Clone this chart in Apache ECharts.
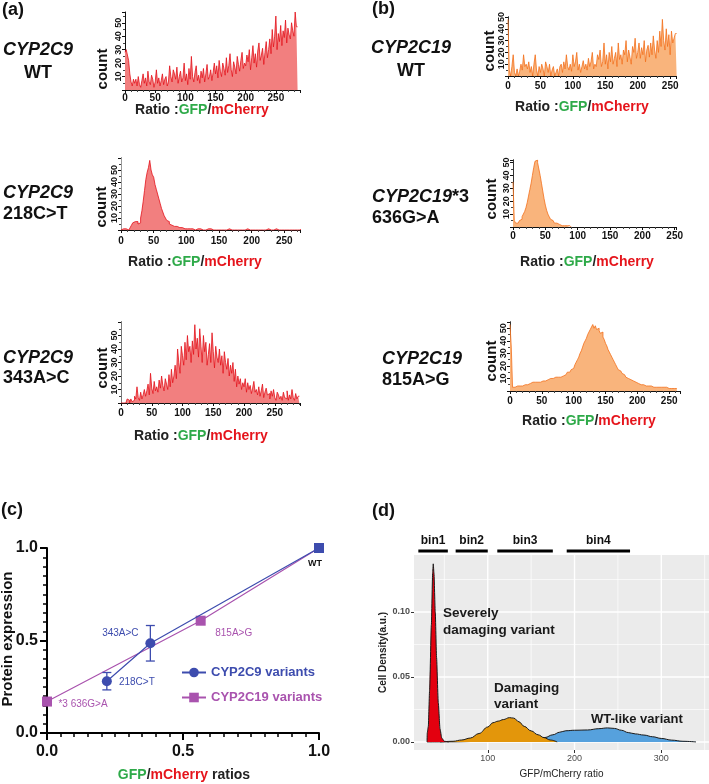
<!DOCTYPE html>
<html><head><meta charset="utf-8">
<script src="https://cdn.jsdelivr.net/npm/echarts@6/dist/echarts.min.js"></script>
<style>html,body{margin:0;padding:0;background:#fff}#c{width:709px;height:784px}</style>
</head><body><div id="c"></div>
<script>
// ---------- DATA ----------
const BIN = 2; // histogram bin width (ratio units)
const c9WT = [28,30,26,22,12,6,3,8,
 5,8,3,10,4,2,7,12,5,9,3,14,6,4,11,8,2,6,15,5,9,3,7,12,4,8,10,3,6,
 18,10,6,15,12,8,17,5,10,14,6,9,20,7,12,4,16,8,25,10,6,13,18,7,11,5,14,9,16,6,12,19,8,10,15,7,13,20,
 12,18,9,22,14,10,20,16,11,24,13,18,27,15,10,21,17,12,25,19,14,22,28,16,20,
 18,26,21,30,15,24,33,20,27,17,29,35,22,26,31,19,28,36,24,30,
 38,27,45,32,40,55,30,42,36,48,33,44,39,52,35,46,41,38,50,44,40,58,47];
const c9_218 = [0,1,0,1,1,0,1,
 2,4,6,7,8,7,5,6,
 10,16,24,33,42,48,52,58,50,46,
 44,38,34,30,26,22,18,15,12,10,
 8,7,5,4,3,3,2,3,2,2,
 1,2,1,1,2,1,0,1,2,1, 1,0,1,1,0,1,1,0,1,0, 0,1,0,1,0,0,1,0,1,0, 0,0,1,0,1,0,0,1,0,0,
 1,0,0,0,1,0,0,0,1,0, 0,1,0,0,0,0,1,0,0,0, 0,0,1,0,0,0,0,1,0,0, 0,0,0,1,0,0,0,0,1,0,
 0,0,1,0,0,0,0,0,1,0, 0,0,1];
const c9_343 = [0,0,0,0,0, 3,2,0,3,1,
 2,5,3,12,4,2,8,3,6,10, 5,9,14,6,22,11,7,16,9,12, 8,17,11,20,13,9,18,14,10,21,
 12,25,15,20,28, 18,40,30,22,42,
 35,28,45,32,50,38,42,30,46,36, 58,40,48,34,55,42,30,50,38,45,
 28,36,44,30,52,38,26,42,34,30, 40,28,35,22,38,30,25,33,20,28,
 22,30,16,25,12,20,14,18,10,15, 12,18,8,15,10,13,7,11,16,8,
 10,6,12,5,9,14,4,8,11,6, 7,3,9,5,10,4,2,8,6,3,
 5,2,8,4,3,9,2,6,3,10,4,2,7,3,5];
const c19WT = [48, 5,0,8,18,3,0,6,0,4,
 10,5,18,8,10,6,12,3,8,0, 10,18,5,0,8,3,10,6,0,12, 8,3,10,0,5,8,0,3,6,0,
 8,10,3,12,6,18,8,5,10,4, 18,8,12,20,5,10,3,8,13,6, 10,5,15,8,12,20,6,10,8,18,
 14,22,8,12,28,10,18,6,20,12, 25,10,15,20,8,28,14,18,10,22, 18,30,12,22,16,10,25,20,32,15,
 20,28,15,24,18,30,12,22,26,16, 28,18,34,22,15,30,20,38,25,48, 30,22,40,25,35,18,38,28,32,36];
const c19_636 = [35, 5,3,3,4, 5,6,8,10,12, 15,19,24,29,34, 40,46,51,52,50, 45,40,34,28,22,
 17,13,10,8,6, 5,4,3,3,2, 2,2,1,1,1, 1,1,1,1,0];
const c19_815 = [53,35, 3,3,3,4,3,4,4,4,
 4,5,5,5,6,6,6,7,6,7, 7,7,8,7,8,8,9,8,9,9, 9,10,9,10,10,11,10,11,12,11,
 12,12,13,13,14,15,15,16,17,18, 19,21,23,25,27,30,32,35,38,40, 42,45,47,49,51,53,50,52,49,50,
 48,46,47,43,41,38,36,33,31,29, 27,25,23,21,19,17,16,15,14,13, 12,11,10,10,9,8,8,7,7,6,
 6,6,5,5,5,5,4,4,4,4, 4,4,3,4,3,3,3,3,3,3, 3,2,3,2,2,2,2,2,2,2,2];
const histTicks = [0,50,100,150,200,250];
const countTicks = [10,20,30,40,50];

// panel (c)
const c9Ratio = [0.22, 0.38, 1.0];
const c9Expr  = [0.28, 0.485, 1.0];
const c9Err   = [0.047, 0.096, 0];
const c9Names = ['218C>T','343A>C','WT'];
const c19Ratio = [0.0, 0.565, 1.0];
const c19Expr  = [0.17, 0.607, 1.0];
const c19Names = ['*3 636G>A','815A>G',''];

// panel (d)
const redX = [30,30.3,31.5,33,35,36.5,37.2,38,39.5,41,43,45,47,50,55];
const redY = [0,0.007,0.012,0.04,0.09,0.13,0.137,0.13,0.1,0.065,0.03,0.01,0.003,0.0005,0];
const orX = [45,60,70,80,90,100,106,112,118,125,130,136,142,150,158,165,172,180];
const orY = [0,0.0005,0.0015,0.003,0.0065,0.0115,0.0148,0.016,0.0172,0.0187,0.0183,0.0155,0.012,0.0085,0.0055,0.0033,0.0015,0];
const blX = [30,60,90,120,140,155,166,175,183,190,200,215,228,238,246,254,262,270,280,290,300,312,325,340];
const blY = [0,0.0001,0.0004,0.001,0.0018,0.0026,0.0034,0.0055,0.0075,0.0086,0.009,0.0092,0.0102,0.0108,0.0104,0.009,0.0072,0.0062,0.0053,0.004,0.0027,0.0014,0.0005,0];
const binNames = ['bin1','bin2','bin3','bin4'];
const binFrom = [20, 63, 111, 191];
const binTo   = [54, 100, 175, 264];
const dTicksX = [100,200,300];
const dTicksY = [0,0.05,0.10];
const dGridX = [50,100,150,200,250,300,350];
const dGridY = [0,0.025,0.05,0.075,0.1,0.125];

// ---------- STYLE / LAYOUT ----------
const F = '"Liberation Sans", Arial, Helvetica, sans-serif';
const RED_L='#e3121b', RED_F='#f27f7f', OR_L='#f2701c', OR_F='#f9b47c';
const BLUE='#3d4cae', PURP='#a953ae';
const GREEN='#2eaa49', MRED='#e5141b';
const dXMin=15, dXMax=355, dYMin=-0.0062, dYMax=0.1438;

const H = [
 {data:c9WT,   left:125, top:12,  width:175, height:78, xmax:290, ymax:58, line:RED_L, fill:RED_F, xm:3, rc:null},
 {data:c9_218, left:121, top:158, width:179, height:72, xmax:274, ymax:60, line:RED_L, fill:RED_F, xm:6, rc:'#999'},
 {data:c9_343, left:121, top:322, width:179, height:81, xmax:291, ymax:60, line:RED_L, fill:RED_F, xm:5, rc:'#777'},
 {data:c19WT,  left:508, top:17,  width:168, height:59, xmax:259, ymax:50, line:OR_L, fill:OR_F, xm:5, rc:'#333'},
 {data:c19_636,left:513, top:160, width:163, height:67, xmax:252, ymax:52, line:OR_L, fill:OR_F, xm:4, rc:'#333'},
 {data:c19_815,left:510, top:322, width:170, height:69, xmax:267, ymax:55, line:OR_L, fill:OR_F, xm:5, rc:'#333'}
];

const grids=[], xAxes=[], yAxes=[], series=[];
H.forEach((h,i)=>{
  grids.push({left:h.left, top:h.top, width:h.width, height:h.height, containLabel:false, outerBoundsMode:'none'});
  xAxes.push({gridIndex:i, type:'value', min:0, max:h.xmax, interval:50,
    axisLine:{show:true, onZero:false, lineStyle:{color:'#111', width:1}},
    axisTick:{show:true, length:3, lineStyle:{color:'#111'}},
    minorTick:{show:true, splitNumber:5, length:2, lineStyle:{color:'#444'}},
    axisLabel:{show:true, margin:h.xm, fontSize:10, fontWeight:'bold', color:'#111', fontFamily:F,
      formatter:v=>histTicks.includes(v)?String(v):''},
    splitLine:{show:false}});
  yAxes.push({gridIndex:i, type:'value', position:'left', min:0, max:h.ymax, interval:10,
    axisLine:{show:true, onZero:false, lineStyle:{color:'#111', width:1}},
    axisTick:{show:true, length:3, lineStyle:{color:'#111'}},
    minorTick:{show:true, splitNumber:2, length:2, lineStyle:{color:'#444'}},
    axisLabel:{show:true, rotate:90, margin:2, fontSize:9, fontWeight:'bold', color:'#111', fontFamily:F,
      formatter:v=>countTicks.includes(v)?String(v):''},
    splitLine:{show:false}});
  yAxes.push({gridIndex:i, type:'value', position:'right', min:0, max:h.ymax,
    axisLine:{show:!!h.rc, lineStyle:{color:h.rc||'#000', width:1}},
    axisTick:{show:false}, axisLabel:{show:false}, splitLine:{show:false}});
  const pts = h.data.map((c,k)=>[k*BIN, c]);
  pts.push([h.data.length*BIN, h.data[h.data.length-1]]);
  series.push({type:'line', xAxisIndex:i, yAxisIndex:2*i, data:pts, step:'end', symbol:'none', silent:true,
    lineStyle:{color:h.line, width:0.8}, areaStyle:{color:h.fill, opacity:1}, z:2});
});

// ---- panel (c) ----
grids.push({left:47, top:548, width:272, height:185, containLabel:false, outerBoundsMode:'none'});
xAxes.push({gridIndex:6, type:'value', min:0, max:1, interval:0.5,
  axisLine:{show:true, onZero:false, lineStyle:{color:'#000', width:2}},
  axisTick:{show:true, length:7, lineStyle:{color:'#000', width:2}},
  minorTick:{show:true, splitNumber:10, length:4, lineStyle:{color:'#000', width:1.5}},
  axisLabel:{margin:11, fontSize:16, fontWeight:'bold', color:'#111', fontFamily:F, formatter:v=>v.toFixed(1)},
  splitLine:{show:false}});
yAxes.push({gridIndex:6, type:'value', min:0, max:1, interval:0.5,
  axisLine:{show:true, onZero:false, lineStyle:{color:'#000', width:2}},
  axisTick:{show:true, length:7, lineStyle:{color:'#000', width:2}},
  minorTick:{show:true, splitNumber:10, length:4, lineStyle:{color:'#000', width:1.5}},
  axisLabel:{margin:9, fontSize:16, fontWeight:'bold', color:'#111', fontFamily:F, formatter:v=>v.toFixed(1)},
  splitLine:{show:false}});
const c9Offsets = [[30,1],[-30,-10],[-4,16]];
const c19Offsets = [[36,3],[33,13],[0,0]];
series.push({type:'line', name:'CYP2C19 variants', xAxisIndex:6, yAxisIndex:12, clip:false, z:3,
  symbol:'rect', symbolSize:10, itemStyle:{color:PURP}, lineStyle:{color:PURP, width:1.2},
  data:c19Ratio.map((x,i)=>({value:[x,c19Expr[i]], label:{show:!!c19Names[i], formatter:c19Names[i], position:'inside',
    offset:c19Offsets[i], color:PURP, fontSize:10, fontFamily:F}}))});
series.push({type:'custom', xAxisIndex:6, yAxisIndex:12, z:4, silent:true,
  data:c9Ratio.map((x,i)=>[x,c9Expr[i],c9Err[i]]),
  renderItem:(p,api)=>{const x=api.value(0), y=api.value(1), e=api.value(2); if(!e) return null;
    const t=api.coord([x,y+e]), b=api.coord([x,y-e]), w=4.5, st={stroke:BLUE, lineWidth:1.3};
    return {type:'group', children:[
      {type:'line', shape:{x1:t[0],y1:t[1],x2:b[0],y2:b[1]}, style:st},
      {type:'line', shape:{x1:t[0]-w,y1:t[1],x2:t[0]+w,y2:t[1]}, style:st},
      {type:'line', shape:{x1:b[0]-w,y1:b[1],x2:b[0]+w,y2:b[1]}, style:st}]};}});
series.push({type:'line', name:'CYP2C9 variants', xAxisIndex:6, yAxisIndex:12, clip:false, z:5,
  symbol:'circle', symbolSize:10, itemStyle:{color:BLUE}, lineStyle:{color:BLUE, width:1.2},
  data:c9Ratio.map((x,i)=>({value:[x,c9Expr[i]], symbol: c9Names[i]==='WT'?'rect':'circle',
    label:{show:true, formatter:c9Names[i], position:'inside', offset:c9Offsets[i],
      color: c9Names[i]==='WT'?'#111':BLUE, fontWeight: c9Names[i]==='WT'?'bold':'normal',
      fontSize: c9Names[i]==='WT'?9:10, fontFamily:F}}))});

// ---- panel (d) ----
grids.push({left:414, top:555, right:0, height:195, containLabel:false, outerBoundsMode:'none',
  show:true, backgroundColor:'#ebebeb', borderWidth:0});
xAxes.push({gridIndex:7, type:'value', min:dXMin, max:dXMax,
  axisLine:{show:false, onZero:false},
  axisTick:{show:true, length:3, customValues:dTicksX, lineStyle:{color:'#333'}},
  axisLabel:{margin:4, fontSize:9, color:'#4d4d4d', fontFamily:F, customValues:dTicksX},
  splitLine:{show:false},
  name:'GFP/mCherry ratio', nameLocation:'middle', nameGap:19,
  nameTextStyle:{fontSize:10, color:'#222', fontFamily:F}});
yAxes.push({gridIndex:7, type:'value', min:dYMin, max:dYMax,
  axisLine:{show:false, onZero:false},
  axisTick:{show:true, length:3, customValues:dTicksY, lineStyle:{color:'#333'}},
  axisLabel:{margin:4, fontSize:9, fontWeight:'bold', color:'#4d4d4d', fontFamily:F, customValues:dTicksY, formatter:v=>v.toFixed(2)},
  splitLine:{show:false},
  name:'Cell Density(a.u.)', nameLocation:'middle', nameGap:23, nameRotate:90,
  nameTextStyle:{fontSize:10, fontWeight:'bold', color:'#222', fontFamily:F}});
series.push({type:'custom', xAxisIndex:7, yAxisIndex:13, z:1, silent:true, data:dGridX.map(v=>[v,0]),
  renderItem:(p,api)=>{const x=api.value(0); const a=api.coord([x,dYMin]), b=api.coord([x,dYMax]);
    return {type:'line', shape:{x1:a[0],y1:a[1],x2:b[0],y2:b[1]}, style:{stroke:'#fff', lineWidth:x%100===0?1.4:0.7}};}});
series.push({type:'custom', xAxisIndex:7, yAxisIndex:13, z:1, silent:true, data:dGridY.map(v=>[dXMin,v]),
  renderItem:(p,api)=>{const y=api.value(1); const a=api.coord([dXMin,y]), b=api.coord([dXMax,y]);
    const major = Math.abs((y*100)%5)<1e-6 || Math.abs((y*100)%5-5)<1e-6;
    return {type:'line', shape:{x1:a[0],y1:a[1],x2:b[0],y2:b[1]}, style:{stroke:'#fff', lineWidth:major?1.4:0.7}};}});
const dens = (xs,ys,fill,z,sm)=>({type:'line', xAxisIndex:7, yAxisIndex:13, z, silent:true, symbol:'none',
  smooth:sm, smoothMonotone:'x', data:xs.map((x,i)=>[x,ys[i]]),
  lineStyle:{color:'#1a1a1a', width:1}, areaStyle:{color:fill, opacity:1}});
series.push(dens(blX, blY, '#56a1dd', 3, 0.4));
series.push(dens(orX, orY, '#e3960b', 4, 0.4));
series.push(dens(redX, redY, '#e3000f', 5, 0.2));
series.push({type:'custom', xAxisIndex:7, yAxisIndex:13, z:6, silent:true, clip:false,
  data:binFrom.map((f,i)=>[f, binTo[i], i]),
  renderItem:(p,api)=>{const a=api.coord([api.value(0), dYMax]), b=api.coord([api.value(1), dYMax]); const y=a[1]-4;
    return {type:'group', children:[
      {type:'line', shape:{x1:a[0],y1:y,x2:b[0],y2:y}, style:{stroke:'#000', lineWidth:3}},
      {type:'text', style:{text:binNames[api.value(2)], x:(a[0]+b[0])/2, y:y-10, textAlign:'center', textVerticalAlign:'middle',
        font:'bold 12px '+F, fill:'#111'}}]};}});

// ---------- TEXT ----------
function T(x,y,text,font,fill,align,rot){
  return {type:'text', x, y, z:100, rotation:rot||0, silent:true,
    style:{text, font, fill:fill||'#111', textAlign:align||'left', textVerticalAlign:'middle'}};
}
function R(x,y,text,rich,font,align,rot){
  return {type:'text', x, y, z:100, rotation:rot||0, silent:true,
    style:{text, rich, font, fill:'#111', textAlign:align||'center', textVerticalAlign:'middle'}};
}
const BI = 'italic bold 18px '+F, B18='bold 18px '+F, B15='bold 15px '+F;
const ratioRich = {k:{fill:'#222', font:'bold 14px '+F}, g:{fill:GREEN, font:'bold 14px '+F}, r:{fill:MRED, font:'bold 14px '+F}};
const ratioText = '{k|Ratio :}{g|GFP}{k|/}{r|mCherry}';
const graphic = [
  T(2,10,'(a)',B18), T(372,9,'(b)',B18), T(1,510,'(c)',B18), T(372,511,'(d)',B18),
  T(38,50,'CYP2C9',BI,'#111','center'), T(38,73,'WT',B18,'#111','center'),
  T(3,193,'CYP2C9',BI), T(3,214,'218C>T',B18),
  T(3,358,'CYP2C9',BI), T(3,378,'343A>C',B18),
  T(411,48,'CYP2C19',BI,'#111','center'), T(411,71,'WT',B18,'#111','center'),
  R(372,197,'{i|CYP2C19}{n|*3}',{i:{font:BI,fill:'#111'},n:{font:B18,fill:'#111'}},B18,'left'),
  T(372,218,'636G>A',B18),
  T(382,359,'CYP2C19',BI), T(382,380,'815A>G',B18),
  T(103,69,'count',B15,'#111','center',Math.PI/2),
  T(102,207,'count',B15,'#111','center',Math.PI/2),
  T(103,368,'count',B15,'#111','center',Math.PI/2),
  T(490,51,'count',B15,'#111','center',Math.PI/2),
  T(492,199,'count',B15,'#111','center',Math.PI/2),
  T(492,361,'count',B15,'#111','center',Math.PI/2),
  R(202,110,ratioText,ratioRich,'bold 14px '+F), R(195,262,ratioText,ratioRich,'bold 14px '+F),
  R(201,436,ratioText,ratioRich,'bold 14px '+F), R(582,107,ratioText,ratioRich,'bold 14px '+F),
  R(587,262,ratioText,ratioRich,'bold 14px '+F), R(589,421,ratioText,ratioRich,'bold 14px '+F),
  T(8,639,'Protein expression',B15,'#111','center',Math.PI/2),
  R(184,775,'{g|GFP}{k|/}{r|mCherry}{k| ratios}',ratioRich,'bold 14px '+F),
  T(443,613,'Severely','bold 13.5px '+F,'#1a1a1a'), T(443,630,'damaging variant','bold 13.5px '+F,'#1a1a1a'),
  T(494,688,'Damaging','bold 13.5px '+F,'#1a1a1a'), T(494,704,'variant','bold 13.5px '+F,'#1a1a1a'),
  T(591,719,'WT-like variant','bold 13px '+F,'#1a1a1a')
];

const option = {
  animation:false, backgroundColor:'#fff',
  grid:grids, xAxis:xAxes, yAxis:yAxes, series,
  legend:{orient:'vertical', left:176, top:661, itemWidth:24, itemHeight:12, itemGap:12, selectedMode:false,
    textStyle:{fontSize:13, fontWeight:'bold', fontFamily:F},
    data:[{name:'CYP2C9 variants', textStyle:{color:BLUE}}, {name:'CYP2C19 variants', textStyle:{color:PURP}}]},
  graphic
};
const chart = echarts.init(document.getElementById('c'), null, {renderer:'canvas'});
chart.setOption(option);
</script>
</body></html>
